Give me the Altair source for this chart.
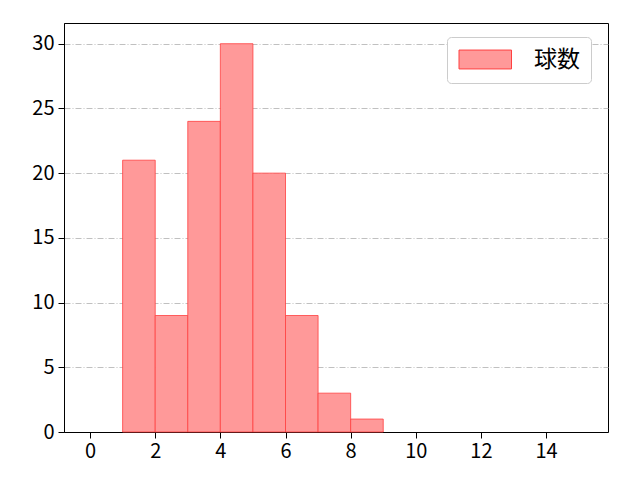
import altair as alt
import pandas as pd

bin_start = [1, 2, 3, 4, 5, 6, 7, 8]
bin_end = [2, 3, 4, 5, 6, 7, 8, 9]
counts = [21, 9, 24, 30, 20, 9, 3, 1]
series = ["球数"] * len(counts)

df = pd.DataFrame({"start": bin_start, "end": bin_end, "count": counts, "series": series})

FONT = "Noto Sans CJK JP"

chart = alt.Chart(df).mark_bar(
    stroke="#ff4040", strokeWidth=1, strokeOpacity=0.8, opacity=1
).encode(
    x=alt.X("start:Q", scale=alt.Scale(domain=[-0.8, 15.9], nice=False, zero=False, padding=0),
            axis=alt.Axis(values=list(range(0, 15, 2)), title=None, grid=False,
                          tickSize=6, labelFontSize=20, labelFont=FONT, labelColor="black",
                          domainColor="black", tickColor="black", labelPadding=3, labelFlush=False)),
    x2="end:Q",
    y=alt.Y("count:Q", scale=alt.Scale(domain=[0, 31.6], nice=False, padding=0),
            axis=alt.Axis(values=list(range(0, 31, 5)), title=None, grid=True,
                          gridColor="#b0b0b0", gridDash=[6, 2, 1, 2], gridWidth=0.8,
                          tickSize=6, labelFontSize=20, labelFont=FONT, labelColor="black",
                          domainColor="black", tickColor="black", labelPadding=4)),
    y2=alt.datum(0),
    color=alt.Color("series:N", scale=alt.Scale(range=["#ff9999"]),
                    legend=alt.Legend(title=None, orient="none", legendX=383, legendY=14,
                                      symbolType="M-1,-0.9H4V0.9H-1Z", symbolSize=441,
                                      symbolFillColor="#ff9999", symbolStrokeColor="#ff4040",
                                      symbolStrokeWidth=1, symbolOpacity=1,
                                      labelFont=FONT, labelFontSize=23, labelColor="black",
                                      labelOffset=53, padding=11, strokeColor="#cccccc",
                                      fillColor="white", cornerRadius=4)),
).properties(
    width=544, height=409,
    autosize=alt.AutoSizeParams(type="none"),
    padding={"left": 56, "top": 15, "right": 24, "bottom": 48},
).configure_view(stroke="black", strokeWidth=1)

chart.save("out.html", embed_options={"renderer": "svg", "actions": False})
